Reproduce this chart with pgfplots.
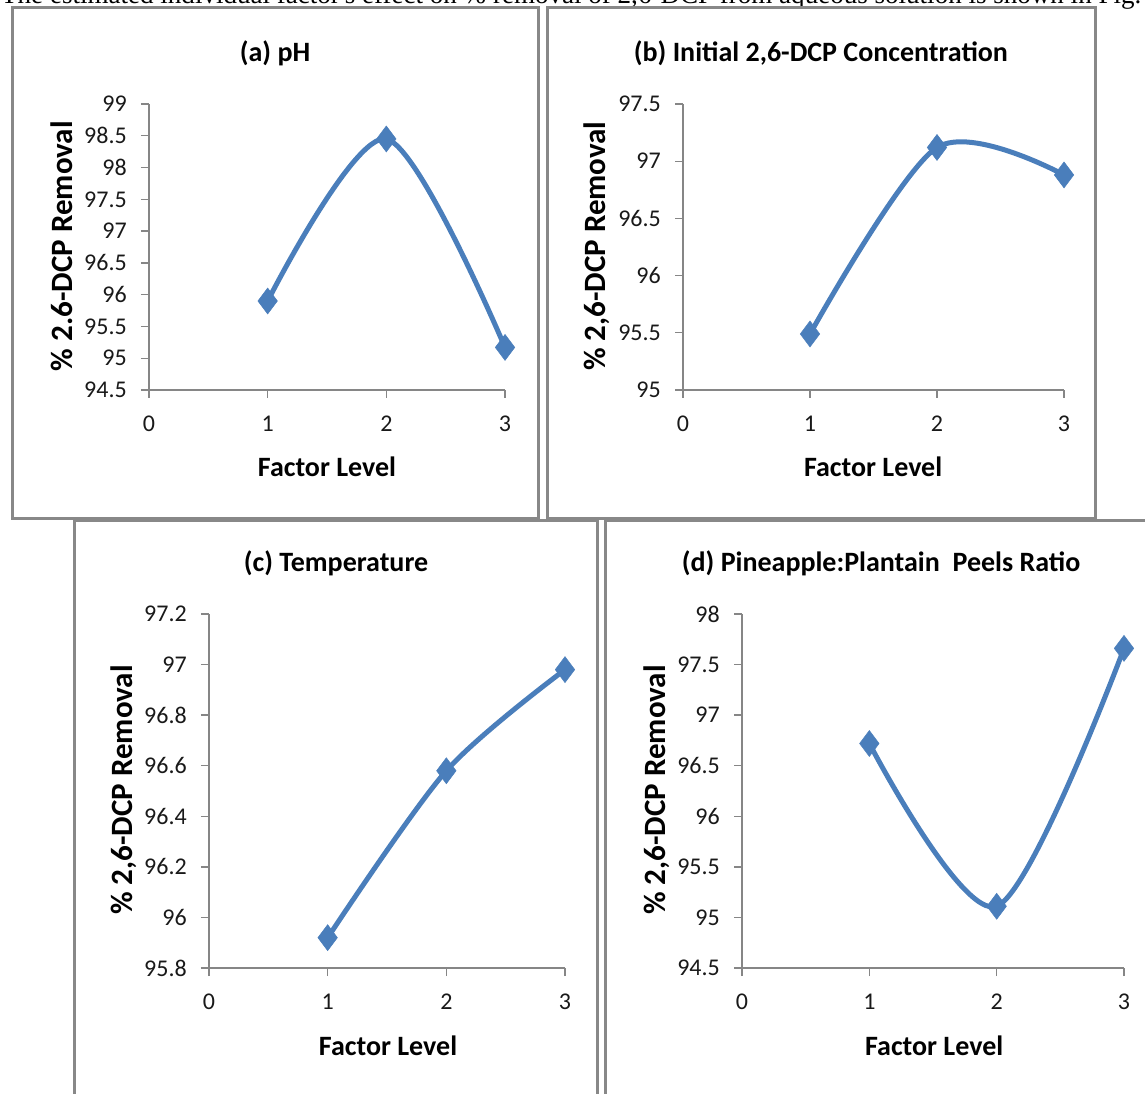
\documentclass[border=0pt]{standalone}
\usepackage{fontspec}
\setmainfont{Carlito}
\newfontfamily\serif{Liberation Serif}
\usepackage{pgfplots}
\pgfplotsset{compat=1.18}
\definecolor{axisgray}{RGB}{134,134,134}
\definecolor{framegray}{RGB}{136,136,136}
\definecolor{series}{RGB}{74,126,187}
\newcommand{\tickfont}{\fontsize{24}{28}\selectfont}
\pgfplotsset{
  panel/.style={
    scale only axis, anchor=south west,
    axis lines=left,
    axis line style={-, draw=axisgray, line width=1.3pt},
    tick align=outside, major tick length=8pt,
    tick style={draw=axisgray, line width=1.3pt},
    xmin=0, xmax=3, xtick={0,1,2,3},
    enlargelimits=false, clip=false,
    /pgf/number format/assume math mode=true,
    tick label style={font=\tickfont, text=black!90},
    yticklabel style={font=\tickfont, anchor=east, inner sep=0pt, xshift=-14pt},
    xticklabel style={font=\tickfont, anchor=north, inner sep=0pt, yshift=-18pt},
    title style={font=\bfseries\fontsize{28}{32}\selectfont, anchor=center},
    xlabel style={font=\bfseries\fontsize{28}{32}\selectfont, anchor=center},
    ylabel style={font=\bfseries\fontsize{31}{34}\selectfont, anchor=center},
  },
  curve/.style={color=series, line width=5pt, smooth, tension=0.5,
    mark=diamond*, mark size=13pt, mark options={solid, fill=series, draw=series, line width=0.5pt}},
}
\begin{document}
\begin{tikzpicture}
\useasboundingbox (0pt,0pt) rectangle (1145pt,1093pt);
\node[anchor=base west, inner sep=0pt] at (1pt,1089pt)
  {\resizebox{1140pt}{!}{\serif The estimated individual factor's effect on \% removal of 2,6-DCP from aqueous solution is shown in Fig.}};
% frames
\draw[framegray, line width=3pt] (12.5pt,1085pt) rectangle (538pt,574.5pt);
\draw[framegray, line width=3pt] (547.5pt,1085pt) rectangle (1095.5pt,574.5pt);
\draw[framegray, line width=3pt] (74.5pt,572.5pt) rectangle (597pt,-10pt);
\draw[framegray, line width=3pt] (605.5pt,572.5pt) rectangle (1160pt,-10pt);

% (a)
\begin{axis}[panel, at={(149pt,703pt)}, width=356pt, height=286pt,
  ymin=94.5, ymax=99, ytick={94.5,95,95.5,96,96.5,97,97.5,98,98.5,99},
  yticklabels={94.5,95,95.5,96,96.5,97,97.5,98,98.5,99},
  title={(a) pH}, title style={at={(0.354,1.157)}},
  xlabel={Factor Level}, xlabel style={at={(0.5,-0.269)}},
  ylabel={\% 2.6-DCP Removal}, ylabel style={at={(-0.244,0.503)}}]
\addplot[curve] coordinates {(1,95.90) (2,98.45) (3,95.17)};
\end{axis}

% (b)
\begin{axis}[panel, at={(683pt,703pt)}, width=381pt, height=286pt,
  ymin=95, ymax=97.5, ytick={95,95.5,96,96.5,97,97.5},
  yticklabels={95,95.5,96,96.5,97,97.5},
  title={(b) Initial 2,6-DCP Concentration}, title style={at={(0.362,1.157)}},
  xlabel={Factor Level}, xlabel style={at={(0.499,-0.269)}},
  ylabel={\% 2,6-DCP Removal}, ylabel style={at={(-0.226,0.503)}}]
\addplot[curve] coordinates {(1,95.49) (2,97.12) (3,96.88)};
\end{axis}

% (c)
\begin{axis}[panel, at={(209pt,125pt)}, width=356pt, height=354pt,
  ymin=95.8, ymax=97.2, ytick={95.8,96,96.2,96.4,96.6,96.8,97,97.2},
  yticklabels={95.8,96,96.2,96.4,96.6,96.8,97,97.2},
  title={(c) Temperature}, title style={at={(0.357,1.127)}},
  xlabel={Factor Level}, xlabel style={at={(0.503,-0.220)}},
  ylabel={\% 2,6-DCP Removal}, ylabel style={at={(-0.239,0.503)}}]
\addplot[curve] coordinates {(1,95.92) (2,96.58) (3,96.98)};
\end{axis}

% (d)
\begin{axis}[panel, at={(742pt,125pt)}, width=382pt, height=354pt,
  ymin=94.5, ymax=98, ytick={94.5,95,95.5,96,96.5,97,97.5,98},
  yticklabels={94.5,95,95.5,96,96.5,97,97.5,98},
  title={(d) Pineapple:Plantain\ \ Peels Ratio}, title style={at={(0.364,1.127)}},
  xlabel={Factor Level}, xlabel style={at={(0.503,-0.220)}},
  ylabel={\% 2,6-DCP Removal}, ylabel style={at={(-0.223,0.503)}}]
\addplot[curve] coordinates {(1,96.72) (2,95.11) (3,97.66)};
\end{axis}
\end{tikzpicture}
\end{document}
